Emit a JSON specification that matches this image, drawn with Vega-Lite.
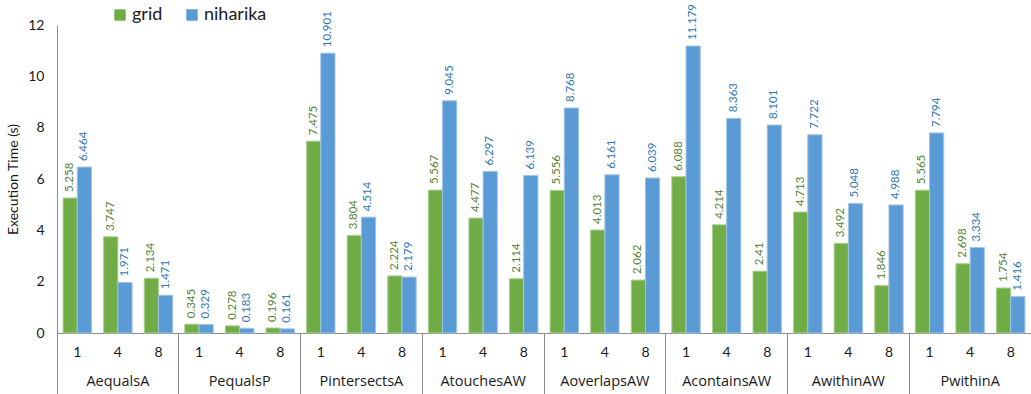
{
  "$schema": "https://vega.github.io/schema/vega-lite/v6.json",
  "width": 974,
  "height": 308,
  "autosize": {"type": "none"},
  "padding": {"left": 57, "top": 25, "right": 0, "bottom": 61},
  "background": "white",
  "config": {
    "view": {"stroke": null},
    "font": "Lato",
    "axis": {"labelFont": "Lato", "titleFont": "Lato", "labelColor": "#1a1a1a", "titleColor": "#1a1a1a", "domainColor": "#8c8c8c", "tickColor": "#8c8c8c", "grid": false}
  },
  "data": {
    "values": [
      {"test": "AequalsA", "threads": "1", "slot": "AequalsA 1", "series": "grid", "time": 5.258},
      {"test": "AequalsA", "threads": "1", "slot": "AequalsA 1", "series": "niharika", "time": 6.464},
      {"test": "AequalsA", "threads": "4", "slot": "AequalsA 4", "series": "grid", "time": 3.747},
      {"test": "AequalsA", "threads": "4", "slot": "AequalsA 4", "series": "niharika", "time": 1.971},
      {"test": "AequalsA", "threads": "8", "slot": "AequalsA 8", "series": "grid", "time": 2.134},
      {"test": "AequalsA", "threads": "8", "slot": "AequalsA 8", "series": "niharika", "time": 1.471},
      {"test": "PequalsP", "threads": "1", "slot": "PequalsP 1", "series": "grid", "time": 0.345},
      {"test": "PequalsP", "threads": "1", "slot": "PequalsP 1", "series": "niharika", "time": 0.329},
      {"test": "PequalsP", "threads": "4", "slot": "PequalsP 4", "series": "grid", "time": 0.278},
      {"test": "PequalsP", "threads": "4", "slot": "PequalsP 4", "series": "niharika", "time": 0.183},
      {"test": "PequalsP", "threads": "8", "slot": "PequalsP 8", "series": "grid", "time": 0.196},
      {"test": "PequalsP", "threads": "8", "slot": "PequalsP 8", "series": "niharika", "time": 0.161},
      {"test": "PintersectsA", "threads": "1", "slot": "PintersectsA 1", "series": "grid", "time": 7.475},
      {"test": "PintersectsA", "threads": "1", "slot": "PintersectsA 1", "series": "niharika", "time": 10.901},
      {"test": "PintersectsA", "threads": "4", "slot": "PintersectsA 4", "series": "grid", "time": 3.804},
      {"test": "PintersectsA", "threads": "4", "slot": "PintersectsA 4", "series": "niharika", "time": 4.514},
      {"test": "PintersectsA", "threads": "8", "slot": "PintersectsA 8", "series": "grid", "time": 2.224},
      {"test": "PintersectsA", "threads": "8", "slot": "PintersectsA 8", "series": "niharika", "time": 2.179},
      {"test": "AtouchesAW", "threads": "1", "slot": "AtouchesAW 1", "series": "grid", "time": 5.567},
      {"test": "AtouchesAW", "threads": "1", "slot": "AtouchesAW 1", "series": "niharika", "time": 9.045},
      {"test": "AtouchesAW", "threads": "4", "slot": "AtouchesAW 4", "series": "grid", "time": 4.477},
      {"test": "AtouchesAW", "threads": "4", "slot": "AtouchesAW 4", "series": "niharika", "time": 6.297},
      {"test": "AtouchesAW", "threads": "8", "slot": "AtouchesAW 8", "series": "grid", "time": 2.114},
      {"test": "AtouchesAW", "threads": "8", "slot": "AtouchesAW 8", "series": "niharika", "time": 6.139},
      {"test": "AoverlapsAW", "threads": "1", "slot": "AoverlapsAW 1", "series": "grid", "time": 5.556},
      {"test": "AoverlapsAW", "threads": "1", "slot": "AoverlapsAW 1", "series": "niharika", "time": 8.768},
      {"test": "AoverlapsAW", "threads": "4", "slot": "AoverlapsAW 4", "series": "grid", "time": 4.013},
      {"test": "AoverlapsAW", "threads": "4", "slot": "AoverlapsAW 4", "series": "niharika", "time": 6.161},
      {"test": "AoverlapsAW", "threads": "8", "slot": "AoverlapsAW 8", "series": "grid", "time": 2.062},
      {"test": "AoverlapsAW", "threads": "8", "slot": "AoverlapsAW 8", "series": "niharika", "time": 6.039},
      {"test": "AcontainsAW", "threads": "1", "slot": "AcontainsAW 1", "series": "grid", "time": 6.088},
      {"test": "AcontainsAW", "threads": "1", "slot": "AcontainsAW 1", "series": "niharika", "time": 11.179},
      {"test": "AcontainsAW", "threads": "4", "slot": "AcontainsAW 4", "series": "grid", "time": 4.214},
      {"test": "AcontainsAW", "threads": "4", "slot": "AcontainsAW 4", "series": "niharika", "time": 8.363},
      {"test": "AcontainsAW", "threads": "8", "slot": "AcontainsAW 8", "series": "grid", "time": 2.41},
      {"test": "AcontainsAW", "threads": "8", "slot": "AcontainsAW 8", "series": "niharika", "time": 8.101},
      {"test": "AwithinAW", "threads": "1", "slot": "AwithinAW 1", "series": "grid", "time": 4.713},
      {"test": "AwithinAW", "threads": "1", "slot": "AwithinAW 1", "series": "niharika", "time": 7.722},
      {"test": "AwithinAW", "threads": "4", "slot": "AwithinAW 4", "series": "grid", "time": 3.492},
      {"test": "AwithinAW", "threads": "4", "slot": "AwithinAW 4", "series": "niharika", "time": 5.048},
      {"test": "AwithinAW", "threads": "8", "slot": "AwithinAW 8", "series": "grid", "time": 1.846},
      {"test": "AwithinAW", "threads": "8", "slot": "AwithinAW 8", "series": "niharika", "time": 4.988},
      {"test": "PwithinA", "threads": "1", "slot": "PwithinA 1", "series": "grid", "time": 5.565},
      {"test": "PwithinA", "threads": "1", "slot": "PwithinA 1", "series": "niharika", "time": 7.794},
      {"test": "PwithinA", "threads": "4", "slot": "PwithinA 4", "series": "grid", "time": 2.698},
      {"test": "PwithinA", "threads": "4", "slot": "PwithinA 4", "series": "niharika", "time": 3.334},
      {"test": "PwithinA", "threads": "8", "slot": "PwithinA 8", "series": "grid", "time": 1.754},
      {"test": "PwithinA", "threads": "8", "slot": "PwithinA 8", "series": "niharika", "time": 1.416}
    ]
  },
  "encoding": {
    "y": {
      "field": "time",
      "type": "quantitative",
      "scale": {"domain": [0, 12], "nice": false},
      "axis": {
        "title": "Execution Time (s)",
        "titleFontSize": 14,
        "titleFontWeight": "normal",
        "titlePadding": 7,
        "values": [0, 2, 4, 6, 8, 10, 12],
        "labelFontSize": 14,
        "labelPadding": 13,
        "ticks": false
      }
    }
  },
  "layer": [
    {
      "mark": {"type": "bar", "strokeWidth": 1},
      "encoding": {
        "x": {
          "field": "slot",
          "type": "nominal",
          "sort": null,
          "scale": {"paddingInner": 0.3, "paddingOuter": 0.15},
          "axis": {
            "title": null,
            "labelExpr": "split(datum.value, ' ')[1]",
            "labelAngle": 0,
            "labelFontSize": 14,
            "labelPadding": 12,
            "ticks": false,
            "domainColor": "#8c8c8c"
          }
        },
        "xOffset": {"field": "series", "type": "nominal", "scale": {"paddingInner": 0, "paddingOuter": 0}},
        "color": {
          "field": "series",
          "type": "nominal",
          "scale": {"domain": ["grid", "niharika"], "range": ["#70AD47", "#5B9BD5"]},
          "legend": {
            "title": null,
            "orient": "none",
            "direction": "horizontal",
            "legendX": 54,
            "legendY": -19,
            "symbolType": "square",
            "symbolSize": 130,
            "symbolStrokeWidth": 0,
            "labelFontSize": 18,
            "labelFont": "Lato",
            "labelColor": "#1a1a1a",
            "columnPadding": 20,
            "labelOffset": 3
          }
        },
        "stroke": {
          "field": "series",
          "type": "nominal",
          "scale": {"domain": ["grid", "niharika"], "range": ["#A9D18E", "#9DC3E6"]},
          "legend": null
        }
      }
    },
    {
      "mark": {"type": "text", "angle": 270, "align": "left", "baseline": "middle", "dx": 6, "fontSize": 11.5, "font": "Lato"},
      "encoding": {
        "x": {"field": "slot", "type": "nominal", "sort": null, "scale": {"paddingInner": 0.3, "paddingOuter": 0.15}, "axis": null},
        "xOffset": {"field": "series", "type": "nominal", "scale": {"paddingInner": 0, "paddingOuter": 0}},
        "text": {"field": "time", "type": "quantitative"},
        "color": {
          "field": "series",
          "type": "nominal",
          "scale": {"domain": ["grid", "niharika"], "range": ["#548235", "#2E75B6"]},
          "legend": null
        }
      }
    },
    {
      "mark": {"type": "bar", "opacity": 0},
      "encoding": {
        "x": {
          "field": "test",
          "type": "nominal",
          "sort": null,
          "scale": {"paddingInner": 0, "paddingOuter": 0},
          "axis": {
            "orient": "bottom",
            "title": null,
            "labelAngle": 0,
            "labelFontSize": 14.5,
            "labelFont": "Open Sans",
            "labelPadding": -21,
            "domain": false,
            "ticks": true,
            "bandPosition": 0,
            "tickSize": 62,
            "tickColor": "#8c8c8c"
          }
        }
      }
    }
  ],
  "resolve": {"scale": {"x": "independent", "color": "independent"}, "axis": {"x": "independent"}}
}
